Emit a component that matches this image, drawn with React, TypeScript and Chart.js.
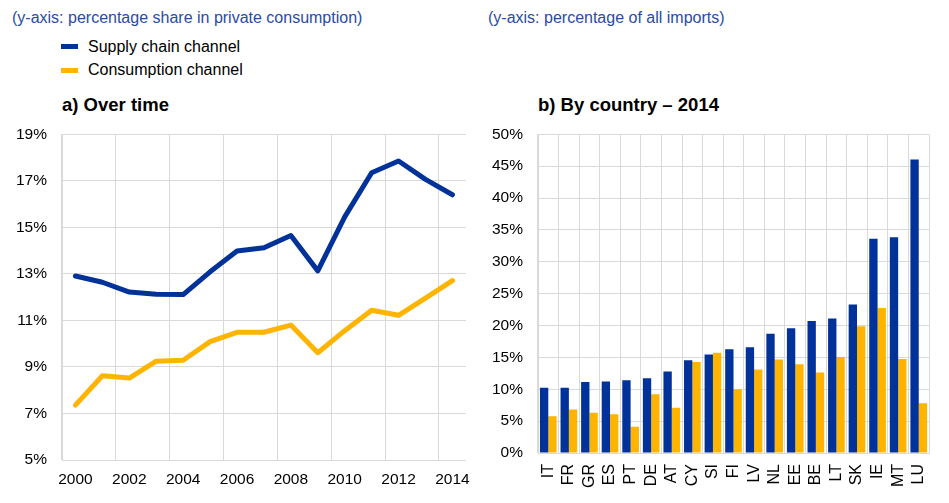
import React, { useEffect, useRef } from "react";
import { Chart, registerables } from "chart.js";

Chart.register(...registerables);

const years = ["2000","2001","2002","2003","2004","2005","2006","2007","2008","2009","2010","2011","2012","2013","2014"];
const supplyOverTime = [12.91,12.64,12.22,12.12,12.11,13.09,13.98,14.12,14.65,13.13,15.45,17.35,17.85,17.06,16.40];
const consumptionOverTime = [7.36,8.62,8.52,9.25,9.29,10.09,10.49,10.49,10.80,9.61,10.56,11.44,11.22,11.96,12.71];

const countries = ["IT","FR","GR","ES","PT","DE","AT","CY","SI","FI","LV","NL","EE","BE","LT","SK","IE","MT","LU"];
const supplyByCountry = [10.23,10.23,11.15,11.2,11.41,11.72,12.8,14.54,15.47,16.29,16.6,18.7,19.58,20.71,21.12,23.28,33.6,33.86,46.04];
const consumptionByCountry = [5.76,6.83,6.32,6.06,4.11,9.2,7.09,14.29,15.72,10.02,13.1,14.65,13.93,12.64,15.06,19.89,22.76,14.75,7.81];

const leftTicks = { min: 5, max: 19, step: 2 };
const rightTicks = { min: 0, max: 50, step: 5 };

const BLUE = "#003299";
const YELLOW = "#ffb400";
const GRID = "#d9d9d9";
const FONT = "'Liberation Sans', Arial, sans-serif";
const TICK_SIZE = 15.5;

export default function App() {
  const leftRef = useRef<HTMLCanvasElement>(null);
  const rightRef = useRef<HTMLCanvasElement>(null);

  useEffect(() => {
    const left = new Chart(leftRef.current!, {
      type: "line",
      data: {
        labels: years,
        datasets: [
          { label: "Supply chain channel", data: supplyOverTime, borderColor: BLUE, backgroundColor: BLUE, borderWidth: 5, pointRadius: 0, tension: 0, borderJoinStyle: "round", borderCapStyle: "round" },
          { label: "Consumption channel", data: consumptionOverTime, borderColor: YELLOW, backgroundColor: YELLOW, borderWidth: 5, pointRadius: 0, tension: 0, borderJoinStyle: "round", borderCapStyle: "round" },
        ],
      },
      options: {
        animation: false,
        responsive: false,
        maintainAspectRatio: false,
        layout: { padding: { top: 19, right: 10, left: 0, bottom: 0 } },
        plugins: { legend: { display: false }, tooltip: { enabled: false } },
        scales: {
          x: {
            type: "category",
            offset: true,
            grid: {
              offset: true,
              drawTicks: false,
              color: (ctx: any) => (ctx.index % 2 === 0 ? GRID : "rgba(0,0,0,0)"),
            },
            border: { color: GRID },
            ticks: {
              autoSkip: false,
              maxRotation: 0,
              minRotation: 0,
              padding: 10,
              color: "#000",
              font: { family: FONT, size: TICK_SIZE },
              callback: (_v: any, i: number) => (i % 2 === 0 ? years[i] : ""),
            },
            afterFit: (s: any) => { s.height = 43; },
          },
          y: {
            min: leftTicks.min,
            max: leftTicks.max,
            grid: { drawTicks: false, color: GRID },
            border: { color: GRID },
            ticks: {
              stepSize: leftTicks.step,
              padding: 15,
              color: "#000",
              font: { family: FONT, size: TICK_SIZE },
              callback: (v: any) => v + "%",
            },
            afterFit: (s: any) => { s.width = 62; },
          },
        },
      },
    });

    const right = new Chart(rightRef.current!, {
      type: "bar",
      data: {
        labels: countries,
        datasets: [
          { label: "Supply chain channel", data: supplyByCountry, backgroundColor: BLUE, categoryPercentage: 0.81, barPercentage: 1 },
          { label: "Consumption channel", data: consumptionByCountry, backgroundColor: YELLOW, categoryPercentage: 0.81, barPercentage: 1 },
        ],
      },
      options: {
        animation: false,
        responsive: false,
        maintainAspectRatio: false,
        layout: { padding: { top: 19, right: 2, left: 0, bottom: 0 } },
        plugins: { legend: { display: false }, tooltip: { enabled: false } },
        scales: {
          x: {
            grid: { offset: true, drawTicks: false, color: GRID },
            border: { color: GRID },
            ticks: {
              autoSkip: false,
              maxRotation: 90,
              minRotation: 90,
              padding: 11,
              color: "#000",
              font: { family: FONT, size: 16 },
            },
            afterFit: (s: any) => { s.height = 50; },
          },
          y: {
            min: rightTicks.min,
            max: rightTicks.max,
            grid: { drawTicks: false, color: GRID },
            border: { color: GRID },
            ticks: {
              stepSize: rightTicks.step,
              padding: 15,
              color: "#000",
              font: { family: FONT, size: TICK_SIZE },
              callback: (v: any) => v + "%",
            },
            afterFit: (s: any) => { s.width = 58; },
          },
        },
      },
    });

    return () => { left.destroy(); right.destroy(); };
  }, []);

  const headerStyle: React.CSSProperties = { position: "absolute", top: 8, fontSize: 16, lineHeight: "20px", color: "#2a4ba6", fontFamily: FONT, whiteSpace: "nowrap" };
  const legendText: React.CSSProperties = { position: "absolute", left: 88, fontSize: 16, lineHeight: "20px", color: "#000", fontFamily: FONT, whiteSpace: "nowrap" };
  const titleStyle: React.CSSProperties = { position: "absolute", top: 94, fontSize: 18.5, fontWeight: "bold", lineHeight: "22px", color: "#000", fontFamily: FONT, whiteSpace: "nowrap" };

  return (
    <div style={{ position: "fixed", left: 0, top: 0, width: 949, height: 503, background: "#fff", overflow: "hidden" }}>
      <div style={{ ...headerStyle, left: 12 }}>(y-axis: percentage share in private consumption)</div>
      <div style={{ ...headerStyle, left: 488 }}>(y-axis: percentage of all imports)</div>
      <div style={{ position: "absolute", left: 61, top: 44, width: 17, height: 5, background: BLUE }} />
      <div style={{ ...legendText, top: 37 }}>Supply chain channel</div>
      <div style={{ position: "absolute", left: 61, top: 68, width: 17, height: 5, background: YELLOW }} />
      <div style={{ ...legendText, top: 60 }}>Consumption channel</div>
      <div style={{ ...titleStyle, left: 62 }}>a) Over time</div>
      <div style={{ ...titleStyle, left: 538 }}>b) By country – 2014</div>
      <canvas ref={leftRef} width={480} height={393} style={{ position: "absolute", left: 0, top: 110, width: 480, height: 393 }} />
      <canvas ref={rightRef} width={469} height={393} style={{ position: "absolute", left: 480, top: 110, width: 469, height: 393 }} />
    </div>
  );
}
